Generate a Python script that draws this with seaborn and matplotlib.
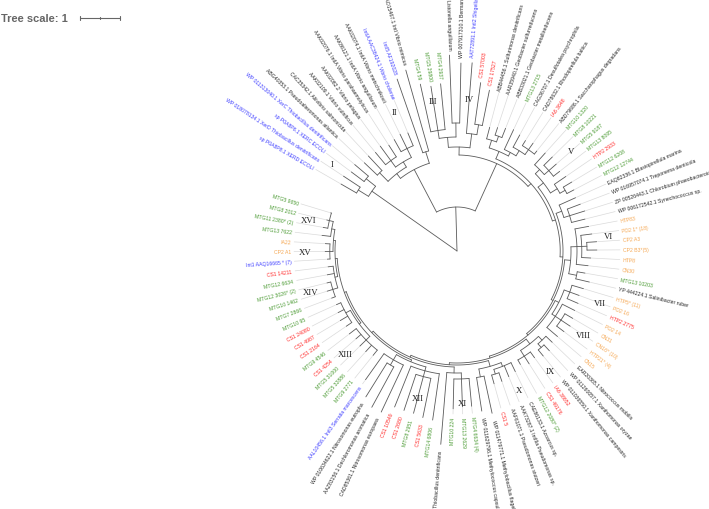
import numpy as np
import pandas as pd
import matplotlib
matplotlib.use("Agg")
import matplotlib.pyplot as plt
import seaborn as sns

# leaves in clockwise order, starting at the XerC/XerD outgroup
leaves = [
    "sp P0A8P8.1 XERD ECOLI", "WP 018078134.1 XerD Thiobacillus denitrificans",
    "sp P0A8P6.1 XERC ECOLI", "WP 011313040.1 XerC Thiobacillus denitrificans",
    "ABG40353.1 Pseudoalteromonas atlantica", "CAC35342.1 Aliivibrio salmonicida",
    "AAK02109.1 Vibrio vulnificus", "AAK02082.2 Vibrio pelagius",
    "AAK02076.1 IntIA Vibrio parahaemolyticus", "AAK86121.1 IntIA Vibrio anguillarum",
    "AAK02074.1 IntIA Vibrio metschnikovii", "IntIA AAC38424.1 Vibrio cholerae",
    "IntI5 AF192028", "AAO15467.1 IntI Vibrio mimicus",
    "MTG4 59", "MTG5 29800", "MTG4 2937",
    "AAK02071.1 Listonella anguillarum", "WP 007917310.1 Bermanella marisrubri",
    "AAT72891.1 IntI2 Shigella sonnei", "CS1 57003", "CS1 17527",
    "ABB44456.1 Sulfurimonas denitrificans", "AAR35940.1 Geobacter sulfurreducens",
    "ABB33021.1 Geobacter metallireducens", "MTG13 2715",
    "CAG36707.1 Desulfotalea psychrophila", "CAD78632.1 Rhodopirellula baltica",
    "IA6 3648", "ABD79686.1 Saccharophagus degradans",
    "MTG10 1320", "MTG8 10221", "MTG5 9187", "MTG13 8095", "HTP2 2933",
    "MTG12 6208", "MTG12 12744",
    "EAQ82336.1 Blastopirellula marina", "WP 016957074.1 Treponema denticola",
    "ZP 00526443.1 Chlorobium phaeobacteroides", "WP 006172542.1 Synechococcus sp.",
    "HTP83", "PD2 1* (18)", "CP2 A3", "CP2 B3*(5)", "HTP8", "CN30",
    "MTG13 10203", "YP 444224.1 Salinibacter ruber",
    "HTP5* (11)", "PD2 16", "HTP2 2775",
    "PD2 14", "CN31", "CN16* (10)", "HTP21* (4)", "CN15",
    "EAR20365.1 Nitrococcus mobilis", "WP 011260057.1 Xanthomonas oryzae",
    "WP 011036550.1 Xanthomonas campestris", "IA6 38652", "CS1 49176",
    "MTG12 2080* (2)",
    "CAE86133.1 Azoarcus sp.", "AAK73287.1 IntI9a Pseudomonas sp.",
    "AAF61071.1 Pseudomonas stutzeri", "CS1 5",
    "WP 011479771.1 Methylobacillus flagellatus",
    "WP 011629796.1 Methylococcus capsulatus",
    "MTG4 6634 (4)", "MTG13 2629", "MTG10 224",
    "WP 011311737.1 Thiobacillus denitrificans",
    "MTG14 6806", "CS1 5633", "MTG8 2951", "CS1 2680", "CS1 10549",
    "CAD85361.1 Nitrosomonas europaea", "AAZ83156.1 Dechloromonas aromatica",
    "WP 010634622.1 Nitrosomonas eutropha", "AAL10456.1 IntI3 Serratia marcescens",
    "MTG9 2771", "MTG5 32886", "MTG5 31000", "CS1 4254", "MTG9 4546",
    "CS1 2164", "CS1 4987", "CS1 24080", "MTG10 95",
    "MTG7 2866", "MTG10 1462", "MTG12 3026* (2)", "MTG12 6634", "CS1 14211",
    "Int1 AAQ16665 * (7)", "CP2 A1", "IA22",
    "MTG13 7622", "MTG11 2380* (2)", "MTG8 2012", "MTG5 9650",
]

# b = reference integrase, k = database sequence, g = MTG, r = CS1/HTP2/IA6, o = enrichment
leaf_group = list(
    "bbbb" "kkkkkkkbbk" "gggkk" "brr" "kkkgkkrk" "ggggrgg" "kkkk"
    "oooooogk" "oor" "ooooo" "kkkrrg" "kkkrkk" "gggk" "grgrr" "kkkb"
    "gggrgrrrg" "ggggr" "boo" "gggg"
)

# tip depth of every leaf (tree units)
leaf_depth = [
    3.35, 3.4, 3.3, 3.35,
    3.2, 3.25, 3.2, 3.25, 3.15, 3.2, 3.25, 3.2, 4.55, 4.7,
    4.27, 4.17, 4.2, 4.9, 4.7,
    4.72, 4.25, 4.1,
    3.2, 3.25, 3.3, 3.35, 3.3, 3.25, 3.3, 3.2,
    3.3, 3.35, 3.3, 3.25, 3.3, 3.35, 3.3,
    3.25, 3.3, 3.35, 3.3,
    3.35, 3.4, 3.5, 3.5, 3.35, 3.3, 3.25, 3.4,
    3.3, 3.25, 3.3,
    3.3, 3.35, 3.4, 3.35, 3.3,
    3.3, 3.4, 3.4, 3.3, 3.35, 3.25,
    3.35, 3.4, 3.45, 3.45, 4.15, 4.05,
    3.9, 3.9, 3.95, 4.85,
    4.27, 4.25, 4.2, 4.2, 4.2,
    4.45, 4.45, 4.3, 3.95,
    3.35, 3.4, 3.4, 3.35, 3.4, 3.35, 3.4, 3.35, 3.3,
    3.35, 3.4, 3.35, 3.3, 3.25,
    3.25, 3.3, 3.3,
    3.4, 3.4, 3.35, 3.3,
]

# internal nodes: (first leaf, last leaf, depth)
nodes = [
    (0, 102, 0.0),
    (0, 3, 2.6), (0, 1, 2.9), (2, 3, 2.9),
    (4, 102, 1.1),
    (4, 13, 2.3), (4, 11, 2.45), (4, 5, 2.75), (6, 11, 2.6), (6, 8, 2.8), (9, 11, 2.85), (12, 13, 2.6),
    (14, 102, 2.4),
    (14, 21, 2.6), (14, 18, 2.85), (14, 16, 3.05), (17, 18, 3.2), (19, 21, 2.95), (20, 21, 3.2),
    (22, 102, 2.5),
    (22, 29, 2.7), (22, 24, 2.9), (23, 24, 3.05), (25, 29, 2.8), (26, 29, 2.95), (27, 29, 3.1),
    (30, 102, 2.58),
    (30, 36, 2.75), (30, 33, 2.9), (31, 33, 3.05), (34, 36, 2.95), (35, 36, 3.1),
    (37, 102, 2.65),
    (37, 40, 2.8), (38, 40, 2.95),
    (41, 102, 2.7),
    (41, 48, 2.85), (41, 46, 3.0), (42, 45, 3.12), (43, 44, 3.25), (47, 48, 3.05),
    (49, 102, 2.75),
    (49, 56, 2.85), (49, 51, 3.0), (52, 56, 2.95), (53, 55, 3.12),
    (57, 102, 2.8),
    (57, 62, 2.95), (57, 59, 3.08), (58, 59, 3.2), (60, 62, 3.12),
    (63, 102, 2.85),
    (63, 68, 3.0), (63, 66, 3.1), (65, 66, 3.22), (67, 68, 3.2),
    (69, 102, 2.9),
    (69, 72, 3.05), (69, 71, 3.2),
    (73, 102, 2.95),
    (73, 81, 3.0), (73, 77, 3.1), (74, 76, 3.25), (78, 81, 3.15), (79, 80, 3.3),
    (82, 102, 3.0),
    (82, 90, 3.05), (82, 86, 3.18), (87, 90, 3.18),
    (91, 102, 3.05),
    (91, 95, 3.12), (91, 93, 3.25),
    (96, 102, 3.1),
    (96, 98, 3.18), (99, 102, 3.18), (100, 102, 3.28),
]

clade_names = ["I", "II", "III", "IV", "V", "VI", "VII", "VIII",
               "IX", "X", "XI", "XII", "XIII", "XIV", "XV", "XVI"]
clade_first = [0, 8, 14, 17, 30, 41, 49, 52, 57, 62, 69, 73, 82, 91, 96, 99]
clade_last = [3, 13, 16, 21, 34, 44, 51, 56, 62, 65, 71, 77, 87, 94, 98, 102]

palette = {"b": "#3f3fff", "k": "#262626", "g": "#4a9a32", "r": "#ff2a2a", "o": "#f5a650"}

# layout
PX = 40.0          # pixels per tree unit
START, STEP = 150.0, 3.4
ALIGN = 166.0
n = len(leaves)

elems = [(i, i, d) for i, d in enumerate(leaf_depth)] + nodes
depth = np.array([e[2] for e in elems])
size = np.array([e[1] - e[0] for e in elems])
parent = np.full(len(elems), -1)
for j, (a, b, _) in enumerate(elems):
    best = None
    for k, (c, d, _) in enumerate(nodes):
        k2 = k + n
        if k2 == j or (c, d) == (a, b):
            continue
        if c <= a and b <= d and (best is None or size[k2] < size[best]):
            best = k2
    if best is not None:
        parent[j] = best

angle = np.zeros(len(elems))
angle[:n] = START - STEP * np.arange(n)
children = {j: [] for j in range(len(elems))}
for j, p in enumerate(parent):
    if p >= 0:
        children[p].append(j)
for j in sorted(range(n, len(elems)), key=lambda k: size[k]):
    ca = angle[children[j]]
    angle[j] = (ca.min() + ca.max()) / 2

rows = []
seg = 0
for j, p in enumerate(parent):
    if p < 0:
        continue
    t = np.radians(angle[j])
    for r in (depth[p], depth[j]):
        rows.append((seg, r * PX * np.cos(t), r * PX * np.sin(t)))
    seg += 1
for j in range(n, len(elems)):
    ca = angle[children[j]]
    t = np.radians(np.linspace(ca.min(), ca.max(), 60))
    r = depth[j] * PX
    for x, y in zip(r * np.cos(t), r * np.sin(t)):
        rows.append((seg, x, y))
    seg += 1
tree_df = pd.DataFrame(rows, columns=["seg", "x", "y"])

conn = []
for i in range(n):
    r0 = leaf_depth[i] * PX
    if r0 + 6 < ALIGN:
        t = np.radians(angle[i])
        for r in (r0 + 1, ALIGN - 3):
            conn.append((i, r * np.cos(t), r * np.sin(t)))
conn_df = pd.DataFrame(conn, columns=["seg", "x", "y"])

sns.set_theme(style="white")
plt.rcParams["font.family"] = ["Liberation Sans", "DejaVu Sans"]

fig = plt.figure(figsize=(7.09, 5.10), dpi=100)
ax = fig.add_axes([0, 0, 1, 1])

sns.lineplot(data=conn_df, x="x", y="y", units="seg", estimator=None, sort=False,
             color="#dadada", lw=0.5, ax=ax, legend=False)
sns.lineplot(data=tree_df, x="x", y="y", units="seg", estimator=None, sort=False,
             color="#5a5a5a", lw=0.6, ax=ax, legend=False)

for i, name in enumerate(leaves):
    a = angle[i]
    r = max(ALIGN, leaf_depth[i] * PX + 6)
    t = np.radians(a)
    right = np.cos(t) >= 0
    ax.text(r * np.cos(t), r * np.sin(t), name, fontsize=3.7,
            color=palette[leaf_group[i]],
            rotation=a if right else a - 180, rotation_mode="anchor",
            ha="left" if right else "right", va="center")

for name, f, l in zip(clade_names, clade_first, clade_last):
    t = np.radians(angle[f:l + 1].mean())
    ax.text(152 * np.cos(t), 152 * np.sin(t), name, fontsize=6.3,
            family="Liberation Serif", color="#222222", ha="center", va="center")

# scale bar
ax.text(-456, 233, "Tree scale: 1", fontsize=8, fontweight="bold", color="#666666",
        ha="left", va="center")
bx = -377
ax.plot([bx, bx + PX], [233, 233], color="#666666", lw=0.8)
for x in (bx, bx + PX / 2, bx + PX):
    ax.plot([x, x], [231, 235] if x != bx + PX / 2 else [232, 234], color="#666666", lw=0.8)

ax.set_xlim(-457, 252)
ax.set_ylim(-258, 252)
ax.set_aspect("equal")
ax.axis("off")
fig.savefig("out.png", dpi=100)
